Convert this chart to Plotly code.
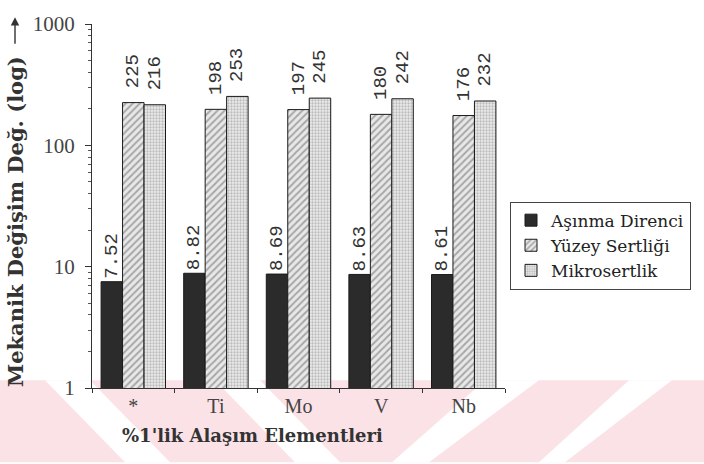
import plotly.graph_objects as go

# Alloying elements (1 %) and the measured property changes (log scale)
elements = ["*", "Ti", "Mo", "V", "Nb"]
series_names = ["Aşınma Direnci", "Yüzey Sertliği", "Mikrosertlik"]
asinma_direnci = [7.52, 8.82, 8.69, 8.63, 8.61]
yuzey_sertligi = [225, 198, 197, 180, 176]
mikrosertlik = [216, 253, 245, 242, 232]

y_major = [1, 10, 100, 1000]
y_minor = [m * d for d in (1, 10, 100) for m in range(2, 10)]

W, H = 704, 464
L, R, T, B = 92, 505, 15, 388          # plot area edges in pixels


def px(x):
    return (x - L) / (R - L)


def py(y):
    return (B - y) / (B - T)


NBSP = "\u00a0"
label_font = dict(family="Liberation Mono", size=19, color="#333")
outline = dict(color="#1a1a1a", width=1)

fig = go.Figure()
fig.add_trace(go.Bar(
    name=series_names[0], x=elements, y=asinma_direnci,
    text=[f"{v:.2f}" for v in asinma_direnci],
    marker=dict(color="#2b2b2b", line=outline),
))
fig.add_trace(go.Bar(
    name=series_names[1], x=elements, y=yuzey_sertligi,
    text=[NBSP + f"{v:.0f}" for v in yuzey_sertligi],
    marker=dict(color="#e4e4e4", line=outline,
                pattern=dict(shape="/", fgcolor="#666", bgcolor="#e8e8e8",
                             size=5, solidity=0.4)),
))
fig.add_trace(go.Bar(
    name=series_names[2], x=elements, y=mikrosertlik,
    text=[NBSP + f"{v:.0f}" for v in mikrosertlik],
    marker=dict(color="#dcdcdc", line=outline,
                pattern=dict(shape=".", fgcolor="#8a8a8a", bgcolor="#ececec",
                             size=3, solidity=0.45)),
))
fig.update_traces(textposition="outside", textangle=-90, textfont=label_font,
                  constraintext="none", cliponaxis=False)

# faint diagonal watermark bands along the bottom edge
shapes = [dict(type="rect", xref="paper", yref="paper",
               x0=px(0), x1=px(W), y0=py(380), y1=py(H),
               fillcolor="rgba(240,150,168,0.28)", line_width=0, layer="below")]
white_bands = [
    ((45, 90), (125, 170)),
    ((215, 260), (295, 340)),
    ((485, 539), (392, 429)),
    ((629, 672), (539, 565)),
]
for (t0, t1), (b0, b1) in white_bands:
    path = (f"M{px(t0)},{py(380)} L{px(t1)},{py(380)} "
            f"L{px(b1)},{py(H)} L{px(b0)},{py(H)} Z")
    shapes.append(dict(type="path", xref="paper", yref="paper", path=path,
                       fillcolor="white", line_width=0, layer="below"))

annotations = [
    dict(text="Mekanik Değişim Değ. (log)", xref="paper", yref="paper",
         x=px(15), y=py(218), xanchor="center", yanchor="middle",
         textangle=-90, showarrow=False,
         font=dict(family="DejaVu Serif", size=21, color="#333", weight="bold")),
    dict(text="", xref="paper", yref="paper", x=px(15), y=py(8),
         ax=0, ay=28, showarrow=True, arrowhead=2, arrowsize=1.2,
         arrowwidth=1.4, arrowcolor="#333"),
    dict(text="%1'lik Alaşım Elementleri", xref="paper", yref="paper",
         x=px(252), y=py(437), xanchor="center", yanchor="middle",
         showarrow=False,
         font=dict(family="DejaVu Serif", size=18, color="#333", weight="bold")),
]

fig.update_layout(
    width=W, height=H,
    margin=dict(l=L, r=W - R, t=T, b=H - B, pad=0),
    paper_bgcolor="white", plot_bgcolor="rgba(0,0,0,0)",
    barmode="group", bargap=0.22, bargroupgap=0,
    showlegend=True,
    legend=dict(x=px(510), y=py(197), xanchor="left", yanchor="top",
                bordercolor="#444", borderwidth=1, bgcolor="rgba(0,0,0,0)",
                font=dict(family="DejaVu Serif", size=17, color="#222"),
                tracegroupgap=0),
    shapes=shapes,
    annotations=annotations,
    xaxis=dict(type="category", tickson="boundaries", ticks="outside",
               ticklen=4, tickcolor="#333", showline=True, linecolor="#333",
               linewidth=1, showgrid=False,
               tickfont=dict(family="Liberation Serif", size=20, color="#444")),
    yaxis=dict(type="log", range=[0, 3], tickvals=y_major,
               ticktext=[str(v) for v in y_major], ticks="outside",
               ticklen=6, tickcolor="#333", showline=True, linecolor="#333",
               linewidth=1, showgrid=False, zeroline=False,
               ticklabelstandoff=6,
               minor=dict(tickvals=y_minor, ticks="outside", ticklen=3,
                          tickcolor="#555", showgrid=False),
               tickfont=dict(family="Liberation Serif", size=21, color="#444")),
)

fig.write_html("out.html")
